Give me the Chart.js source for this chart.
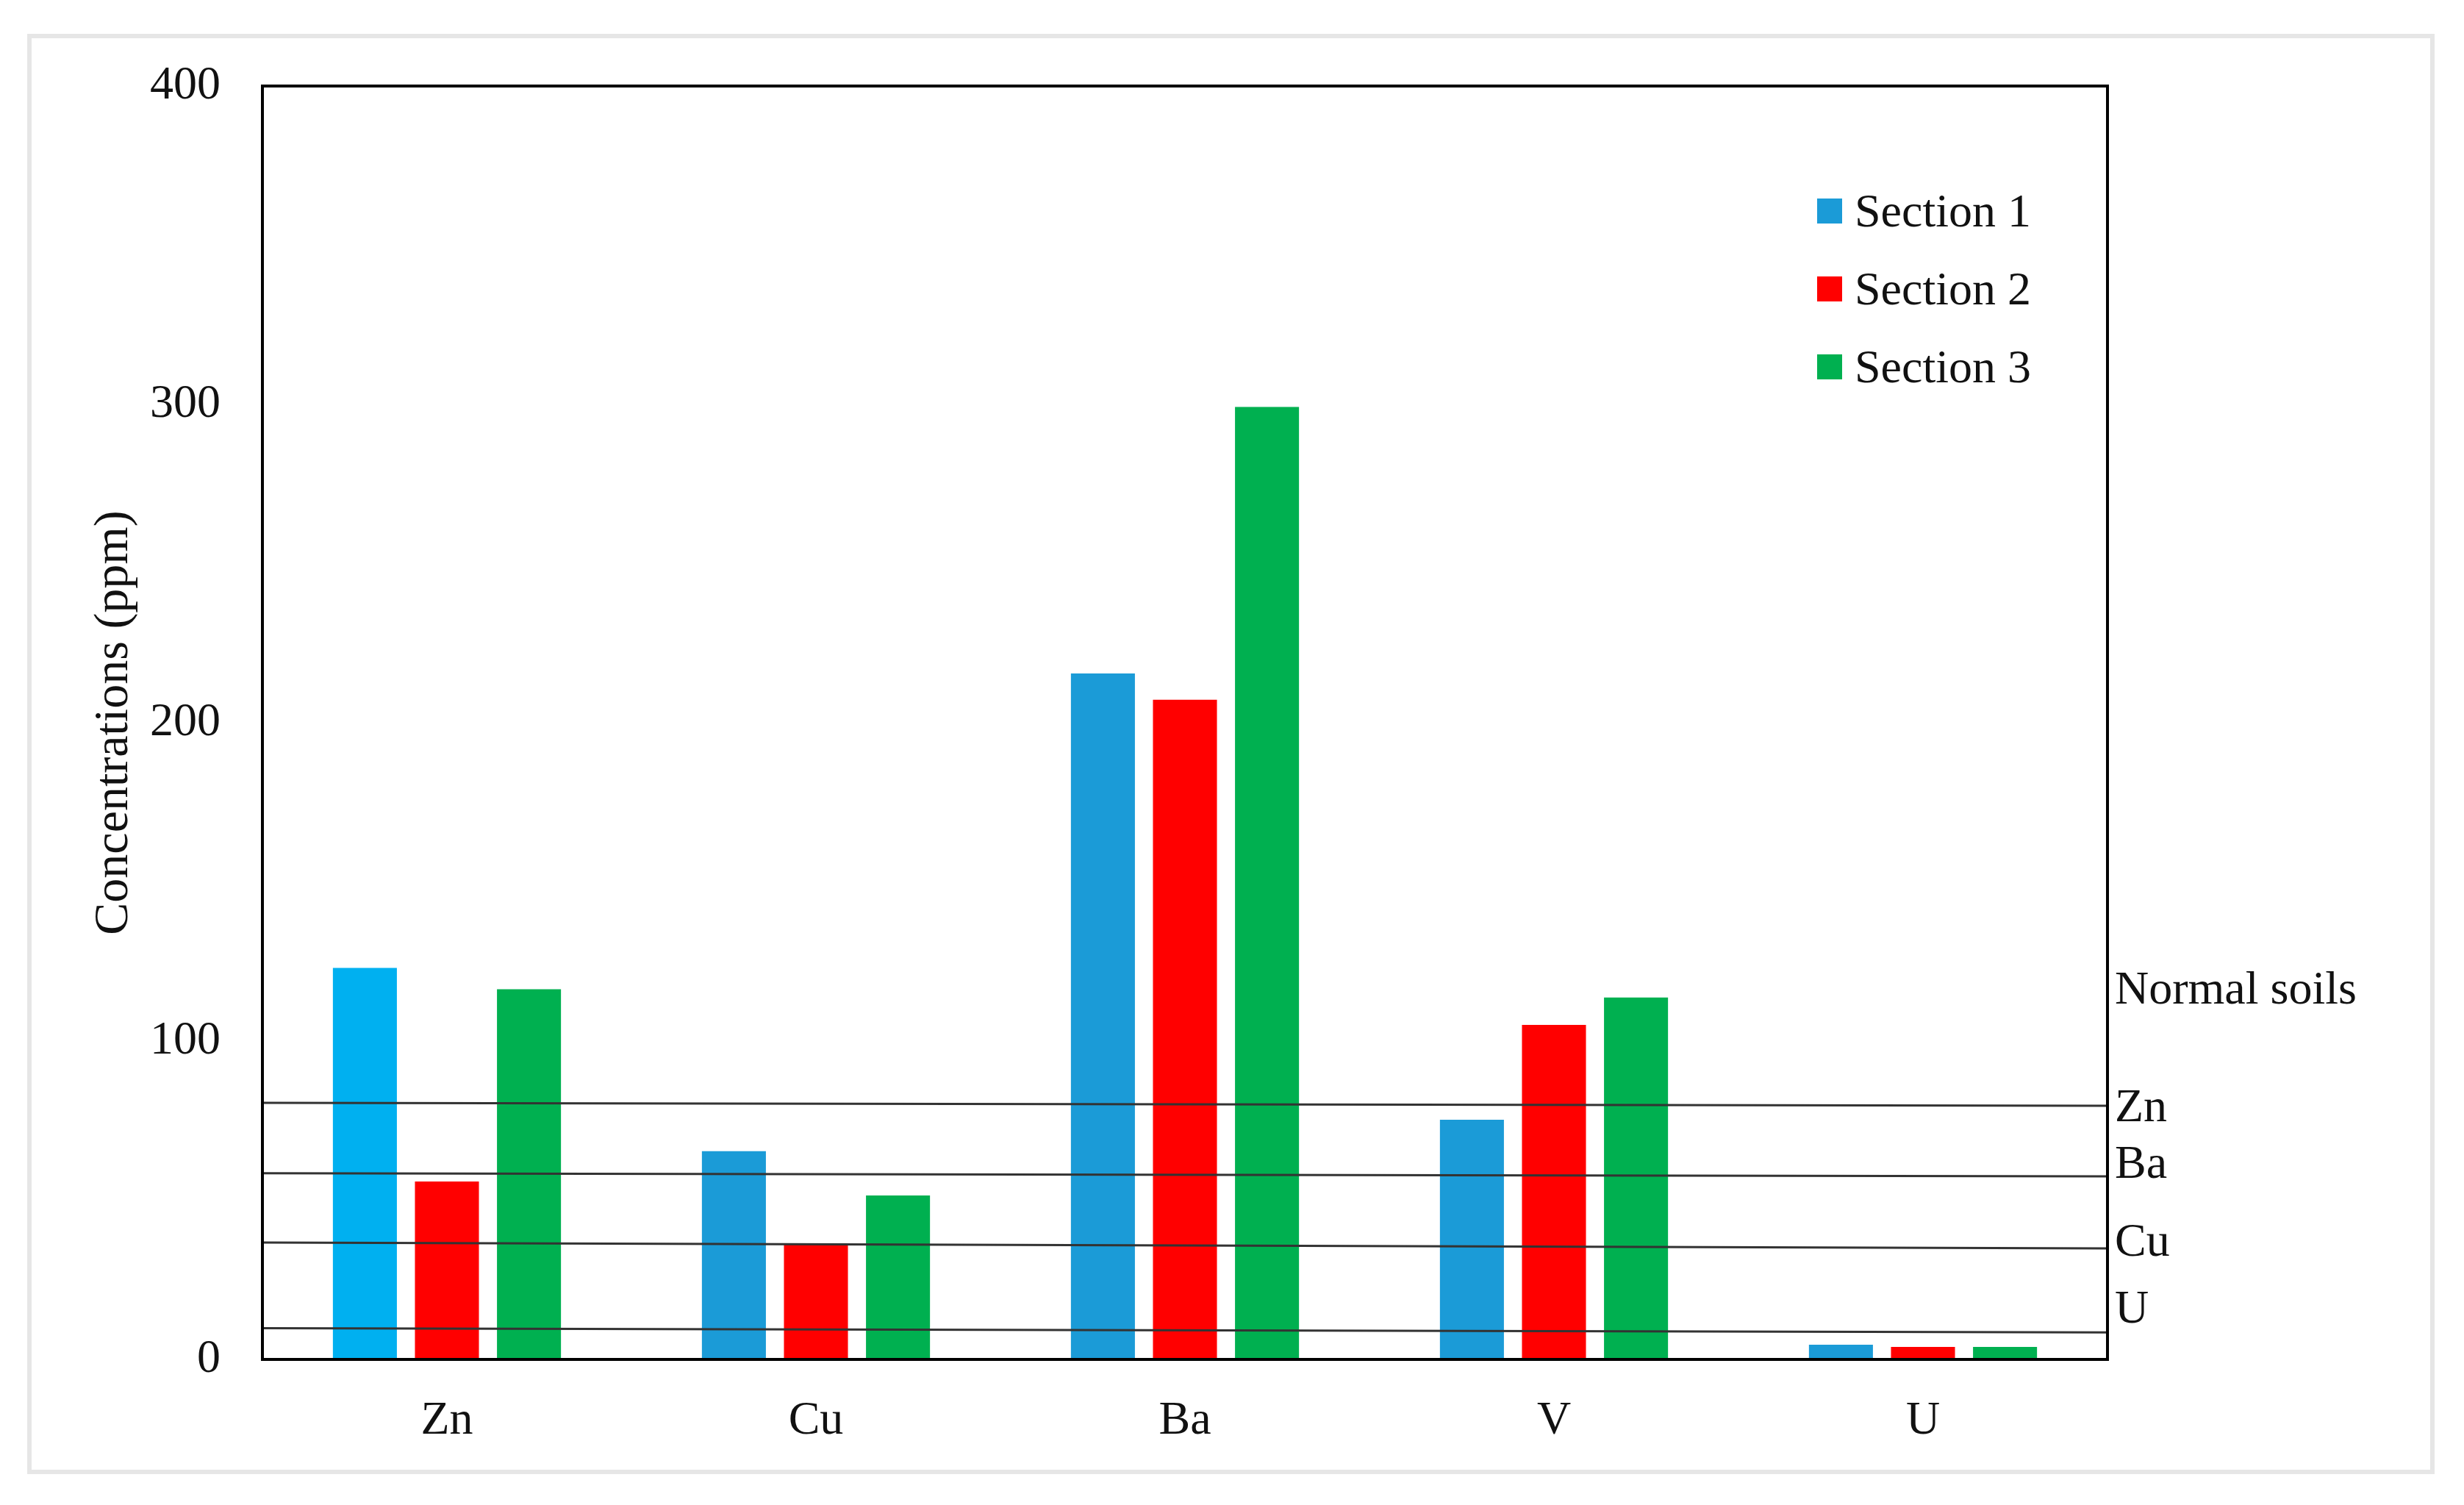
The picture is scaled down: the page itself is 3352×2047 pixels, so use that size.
<!DOCTYPE html>
<html>
<head>
<meta charset="utf-8">
<title>Concentrations by section</title>
<script src="https://cdn.jsdelivr.net/npm/chart.js@4.4.0/dist/chart.umd.min.js"></script>
<style>
    html, body { margin: 0; padding: 0; background: #fff; }
    #wrap { position: relative; width: 3352px; height: 2047px; }
    #frame {
        position: absolute; left: 37px; top: 46px;
        width: 3275px; height: 1959px;
        box-sizing: border-box; border: 6px solid #e6e6e6;
    }
    #chart { position: absolute; left: 0; top: 0; }
</style>
</head>
<body>
<div id="wrap">
    <div id="frame"></div>
    <canvas id="chart" width="3352" height="2047"></canvas>
</div>
<script>
// Values
const categories = ['Zn', 'Cu', 'Ba', 'V', 'U'];
const seriesLabels = ['Section 1', 'Section 2', 'Section 3'];
const section1 = [123.0, 65.4, 215.5, 75.3, 4.6];
const section2 = [55.9, 36.1, 207.2, 105.1, 3.9];
const section3 = [116.3, 51.5, 299.2, 113.7, 3.9];
const yTicks = [0, 100, 200, 300, 400];

// Normal soil levels (lines are slightly tilted in the original)
const normalElements = ['Zn', 'Ba', 'Cu', 'U'];
const normalStart = [80.6, 58.5, 36.7, 9.8];
const normalEnd = [79.7, 57.5, 34.9, 8.5];

const FONT = "'Liberation Serif', 'Times New Roman', serif";
const TEXT = '#111';
const BLUE = '#1B9BD7';
const RED = '#FF0000';
const GREEN = '#00B050';
// the Zn bar of section 1 is a lighter cyan in the original
const colors = [['#00B0F0', BLUE, BLUE, BLUE, BLUE], RED, GREEN];
const legendColors = [BLUE, RED, GREEN];

const barSets = [section1, section2, section3].map((values, i) => ({
    label: seriesLabels[i],
    data: values,
    backgroundColor: colors[i],
    borderWidth: 0,
    categoryPercentage: 0.667,
    barPercentage: 0.78
}));

// Normal soil lines, drawn over the bars from the y scale
const normalLines = {
    id: 'normalLines',
    afterDatasetsDraw(chart) {
        const { ctx, chartArea: area, scales } = chart;
        ctx.save();
        ctx.strokeStyle = '#333';
        ctx.lineWidth = 3;
        normalElements.forEach((el, i) => {
            ctx.beginPath();
            ctx.moveTo(area.left, scales.y.getPixelForValue(normalStart[i]));
            ctx.lineTo(area.right, scales.y.getPixelForValue(normalEnd[i]));
            ctx.stroke();
        });
        ctx.restore();
    }
};

// Box, legend and the right-hand "Normal soils" labels
const decorations = {
    id: 'decorations',
    afterDraw(chart) {
        const { ctx, chartArea: area, scales } = chart;
        ctx.save();

        ctx.strokeStyle = '#000';
        ctx.lineWidth = 4;
        ctx.strokeRect(area.left, area.top, area.right - area.left, area.bottom - area.top);

        ctx.font = '64px ' + FONT;
        ctx.fillStyle = TEXT;
        ctx.textBaseline = 'middle';
        ctx.textAlign = 'left';

        // legend
        const lx = area.right - 395;
        seriesLabels.forEach((label, i) => {
            const cy = area.top + 170 + i * 106;
            ctx.fillStyle = legendColors[i];
            ctx.fillRect(lx, cy - 17, 34, 34);
            ctx.fillStyle = TEXT;
            ctx.fillText(label, lx + 51, cy + 4);
        });

        // labels for normal soil lines
        const tx = area.right + 10;
        const offsets = [4, -15, -7, -30];
        normalElements.forEach((el, i) => {
            const y = scales.y.getPixelForValue(normalEnd[i]) + offsets[i];
            ctx.fillText(el, tx, y);
        });
        const zy = scales.y.getPixelForValue(normalEnd[0]);
        ctx.fillText('Normal soils', tx, zy - 156);

        ctx.restore();
    }
};

new Chart(document.getElementById('chart'), {
    type: 'bar',
    data: {
        labels: categories,
        datasets: barSets
    },
    options: {
        responsive: false,
        animation: false,
        layout: { padding: { top: 117, right: 485, left: 0, bottom: 0 } },
        plugins: {
            legend: { display: false },
            tooltip: { enabled: false }
        },
        scales: {
            x: {
                grid: { display: false, drawTicks: false },
                border: { display: false },
                ticks: { color: TEXT, font: { family: FONT, size: 64 }, padding: 46 },
                afterFit(scale) { scale.height = 198; }
            },
            y: {
                min: yTicks[0],
                max: yTicks[yTicks.length - 1],
                grid: { display: false, drawTicks: false },
                border: { display: false },
                ticks: {
                    stepSize: yTicks[1] - yTicks[0],
                    color: TEXT,
                    font: { family: FONT, size: 64 },
                    padding: 57
                },
                title: {
                    display: true,
                    text: 'Concentrations (ppm)',
                    color: TEXT,
                    font: { family: FONT, size: 66 },
                    padding: { top: 116, bottom: 0 }
                },
                afterFit(scale) { scale.width = 357; }
            }
        }
    },
    plugins: [normalLines, decorations]
});
</script>
</body>
</html>
